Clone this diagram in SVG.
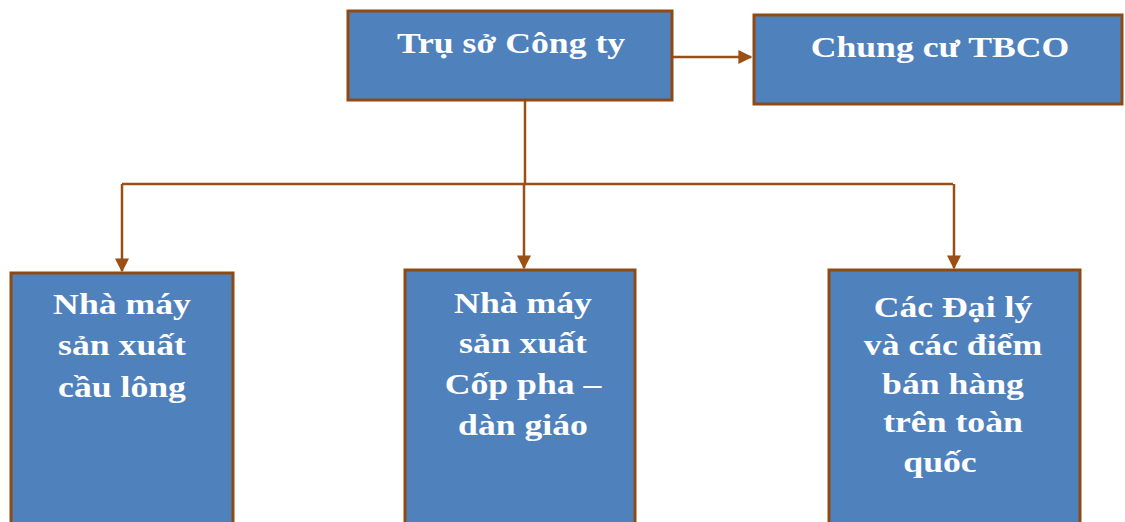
<svg xmlns="http://www.w3.org/2000/svg" width="1125" height="522" viewBox="0 0 1125 522">
<defs>
<style>
.box{fill:#4F81BD;stroke:#8E4A12;stroke-width:3}
.t{font-family:"Liberation Serif","Times New Roman",serif;font-weight:bold;font-size:30.5px;fill:#FFFFFF;text-anchor:middle}
.ln{fill:none;stroke:#9A4F14;stroke-width:2.5}
</style>
<marker id="ah" viewBox="0 0 10 10" refX="9" refY="5" markerWidth="5.6" markerHeight="5.6" orient="auto" markerUnits="strokeWidth">
<path d="M0,0 L10,5 L0,10 z" fill="#9A4F14"/>
</marker>
</defs>
<rect width="1125" height="522" fill="#FFFFFF"/>
<g id="connectors">
<line class="ln" x1="672" y1="57" x2="751" y2="57" marker-end="url(#ah)"/>
<polyline class="ln" points="525,100 525,184"/>
<polyline class="ln" points="122,184 953,184"/>
<line class="ln" x1="122" y1="184" x2="122" y2="271" marker-end="url(#ah)"/>
<line class="ln" x1="524" y1="184" x2="524" y2="268" marker-end="url(#ah)"/>
<line class="ln" x1="954" y1="184" x2="954" y2="268" marker-end="url(#ah)"/>
</g>
<g id="tru-so">
<rect class="box" x="348" y="11" width="324" height="89"/>
<text class="t" transform="translate(511,53) scale(1.17,1)">Trụ sở Công ty</text>
</g>
<g id="chung-cu">
<rect class="box" x="754" y="15" width="368" height="89"/>
<text class="t" transform="translate(940,57) scale(1.17,1)">Chung cư TBCO</text>
</g>
<g id="nha-may-cau-long">
<rect class="box" x="11" y="273" width="222" height="262"/>
<text class="t" transform="translate(122,314) scale(1.17,1)">Nhà máy</text>
<text class="t" transform="translate(122,355) scale(1.17,1)">sản xuất</text>
<text class="t" transform="translate(122,397) scale(1.17,1)">cầu lông</text>
</g>
<g id="nha-may-cop-pha">
<rect class="box" x="405" y="270" width="230" height="265"/>
<text class="t" transform="translate(523,313) scale(1.17,1)">Nhà máy</text>
<text class="t" transform="translate(523,353) scale(1.17,1)">sản xuất</text>
<text class="t" transform="translate(523,394) scale(1.17,1)">Cốp pha –</text>
<text class="t" transform="translate(523,435) scale(1.17,1)">dàn giáo</text>
</g>
<g id="dai-ly">
<rect class="box" x="829" y="270" width="251" height="265"/>
<text class="t" transform="translate(953,317) scale(1.17,1)">Các Đại lý</text>
<text class="t" transform="translate(953,355) scale(1.17,1)">và các điểm</text>
<text class="t" transform="translate(953,394) scale(1.17,1)">bán hàng</text>
<text class="t" transform="translate(953,432) scale(1.17,1)">trên toàn</text>
<text class="t" transform="translate(940,472) scale(1.17,1)">quốc</text>
</g>
</svg>
